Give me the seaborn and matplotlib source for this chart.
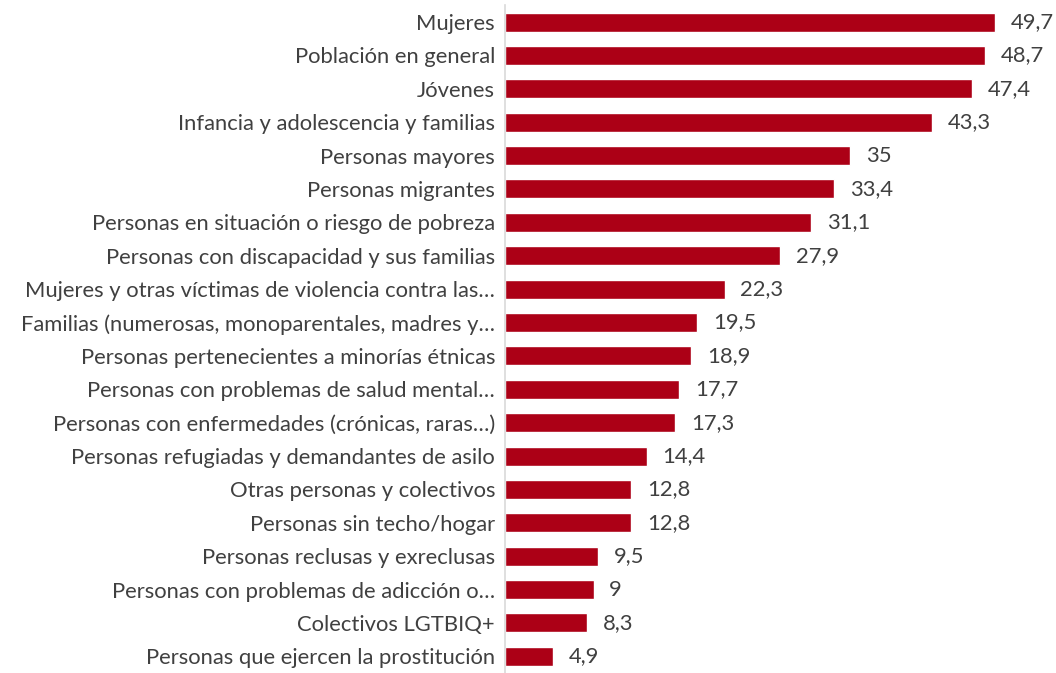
import matplotlib
matplotlib.use("Agg")
import matplotlib.pyplot as plt
import seaborn as sns
import pandas as pd

# -----------------------------
# DATA
# -----------------------------
categories = [
    "Mujeres",
    "Población en general",
    "Jóvenes",
    "Infancia y adolescencia y familias",
    "Personas mayores",
    "Personas migrantes",
    "Personas en situación o riesgo de pobreza",
    "Personas con discapacidad y sus familias",
    "Mujeres y otras víctimas de violencia contra las…",
    "Familias (numerosas, monoparentales, madres y…",
    "Personas pertenecientes a minorías étnicas",
    "Personas con problemas de salud mental…",
    "Personas con enfermedades (crónicas, raras…)",
    "Personas refugiadas y demandantes de asilo",
    "Otras personas y colectivos",
    "Personas sin techo/hogar",
    "Personas reclusas y exreclusas",
    "Personas con problemas de adicción o…",
    "Colectivos LGTBIQ+",
    "Personas que ejercen la prostitución",
]
values = [49.7, 48.7, 47.4, 43.3, 35, 33.4, 31.1, 27.9, 22.3, 19.5,
          18.9, 17.7, 17.3, 14.4, 12.8, 12.8, 9.5, 9, 8.3, 4.9]

df = pd.DataFrame({"colectivo": categories, "pct": values})

BAR = "#AC0016"
TEXT = "#404040"

# -----------------------------
# PLOT
# -----------------------------
sns.set_style("white")
plt.rcParams["font.family"] = ["Lato", "DejaVu Sans"]

fig = plt.figure(figsize=(10.56, 6.73), dpi=100)
ax = fig.add_axes([0.478, 0.0, 0.507, 0.992])

sns.barplot(data=df, y="colectivo", x="pct", color=BAR, width=0.57,
            saturation=1, ax=ax)

# value labels, comma as decimal separator
for i, v in enumerate(values):
    ax.text(v + 1.6, i, f"{v:g}".replace(".", ","), va="center", ha="left",
            fontsize=15.8, color=TEXT)

ax.set_xlim(0, 54.3)
ax.set_ylim(19.5, -0.5)
ax.set_xlabel("")
ax.set_ylabel("")
ax.set_xticks([])
ax.tick_params(axis="y", length=0, pad=7, labelsize=15.8, labelcolor=TEXT)

for side in ["top", "right", "bottom"]:
    ax.spines[side].set_visible(False)
ax.spines["left"].set_color("#D9D9D9")
ax.spines["left"].set_linewidth(1.2)

fig.savefig("out.png", dpi=100)
